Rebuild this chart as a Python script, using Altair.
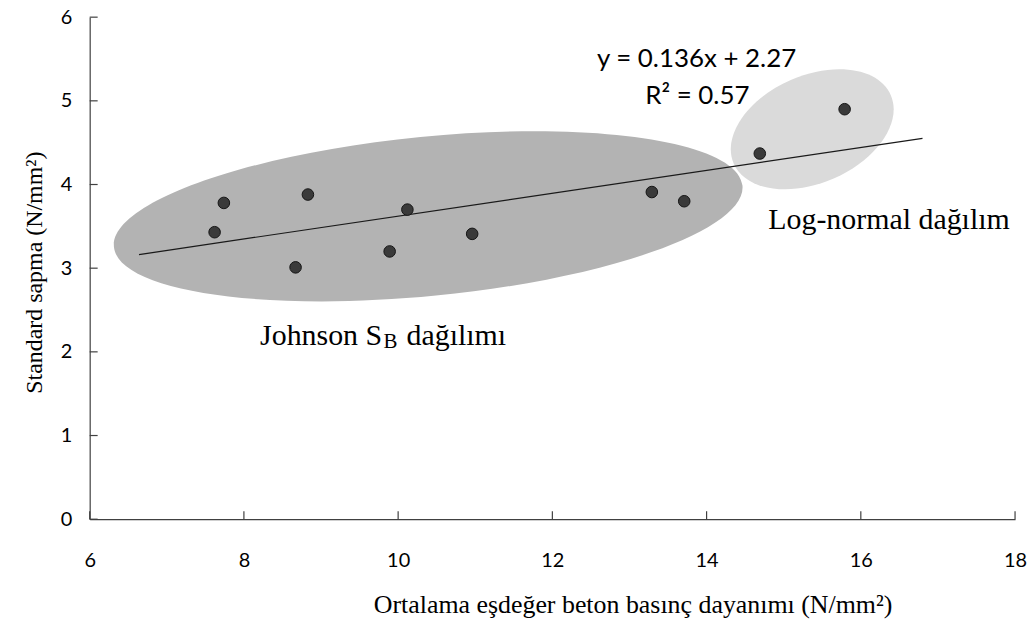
import altair as alt
import pandas as pd

# ---- data ----
mean_strength = [7.62, 7.74, 8.67, 8.83, 9.89, 10.12, 10.96, 13.29, 13.71, 14.69, 15.79]
std_dev = [3.43, 3.78, 3.01, 3.88, 3.20, 3.70, 3.41, 3.91, 3.80, 4.37, 4.90]

x_ticks = [6, 8, 10, 12, 14, 16, 18]
y_ticks = [0, 1, 2, 3, 4, 5, 6]

# centres of the two grouping ellipses (data units)
group_center_x = [10.39, 15.37]
group_center_y = [3.62, 4.66]

# extent of the linear trend line
fit_extent = [6.64, 16.8]

equation_lines = ["y = 0.136x + 2.27", "R² = 0.57"]
equation_x = [13.87, 13.88]
equation_y = [5.41, 4.96]

johnson_pos = [8.21, 2.08]
lognormal_pos = [14.80, 3.47]

x_title = "Ortalama eşdeğer beton basınç dayanımı (N/mm²)"
y_title = "Standard sapma (N/mm²)"

# ---- layout ----
W, H = 929, 504
SERIF = "Liberation Serif"
SANS = "Lato"

points_df = pd.DataFrame({"x": mean_strength, "y": std_dev})
big_df = pd.DataFrame({"x": [group_center_x[0]], "y": [group_center_y[0]]})
small_df = pd.DataFrame({"x": [group_center_x[1]], "y": [group_center_y[1]]})
xt_df = pd.DataFrame({"x": x_ticks})
yt_df = pd.DataFrame({"y": y_ticks})
eq_df = pd.DataFrame({"x": equation_x, "y": equation_y, "t": equation_lines})
john_df = pd.DataFrame({"x": [johnson_pos[0]], "y": [johnson_pos[1]]})
logn_df = pd.DataFrame({"x": [lognormal_pos[0]], "y": [lognormal_pos[1]], "t": ["Log-normal dağılım"]})

xscale = alt.Scale(domain=[6, 18], nice=False, zero=False)
yscale = alt.Scale(domain=[0, 6], nice=False, zero=False)

x_axis = alt.Axis(values=x_ticks, ticks=False, tickSize=0, grid=False,
                  labelPadding=31, labelFont=SANS, labelFontSize=20, labelColor="#000000",
                  domainColor="#404040", domainWidth=1.2, labelFlush=False,
                  title=x_title, titleFont=SERIF, titleFontSize=26, titleFontWeight="normal",
                  titleColor="#000000", titleX=545, titleY=94, titleAlign="center",
                  titleBaseline="alphabetic", titleAnchor="middle")
y_axis = alt.Axis(values=y_ticks, ticks=False, tickSize=0, grid=False,
                  labelPadding=18, labelFont=SANS, labelFontSize=20, labelColor="#000000",
                  domainColor="#404040", domainWidth=1.2, labelFlush=False,
                  title=y_title, titleFont=SERIF, titleFontSize=24, titleFontWeight="normal",
                  titleColor="#000000", titleAngle=270, titleX=-48, titleY=256,
                  titleAlign="center", titleBaseline="alphabetic")

X = alt.X("x:Q", scale=xscale, axis=x_axis)
Y = alt.Y("y:Q", scale=yscale, axis=y_axis)


def ellipse_path(r):
    k = 0.5523
    return (f"M 1 0 C 1 {k*r:.4f} {k:.4f} {r:.4f} 0 {r:.4f} "
            f"C {-k:.4f} {r:.4f} -1 {k*r:.4f} -1 0 "
            f"C -1 {-k*r:.4f} {-k:.4f} {-r:.4f} 0 {-r:.4f} "
            f"C {k:.4f} {-r:.4f} 1 {-k*r:.4f} 1 0 Z")


big_ell = alt.Chart(big_df).mark_point(
    shape=ellipse_path(80 / 317), size=634 ** 2, angle=354.4,
    filled=True, color="#b3b3b3", opacity=1, strokeWidth=0
).encode(x=X, y=Y)

small_ell = alt.Chart(small_df).mark_point(
    shape=ellipse_path(54 / 86), size=172 ** 2, angle=336.5,
    filled=True, color="#dadada", opacity=1, strokeWidth=0
).encode(x=X, y=Y)

trend = alt.Chart(points_df).transform_regression(
    "x", "y", extent=fit_extent
).mark_line(color="#1a1a1a", strokeWidth=1.2).encode(x=X, y=Y)

pts = alt.Chart(points_df).mark_circle(
    size=135, color="#3a3a3a", opacity=1, stroke="#151515", strokeWidth=1
).encode(x=X, y=Y)

xticks = alt.Chart(xt_df).mark_rule(color="#404040", strokeWidth=1.2).encode(
    x=X, y=alt.value(H), y2=alt.value(H - 8))
yticks = alt.Chart(yt_df).mark_rule(color="#404040", strokeWidth=1.2).encode(
    y=Y, x=alt.value(0), x2=alt.value(8))

eq = alt.Chart(eq_df).mark_text(
    font=SANS, fontSize=26, align="center", baseline="alphabetic", color="#000000"
).encode(x=X, y=Y, text="t:N")

john1 = alt.Chart(john_df).mark_text(
    font=SERIF, fontSize=30, align="left", baseline="alphabetic", color="#000000",
    text="Johnson S").encode(x=X, y=Y)
john2 = alt.Chart(john_df).mark_text(
    font=SERIF, fontSize=21, align="left", baseline="alphabetic", color="#000000",
    text="B", dx=124, dy=3).encode(x=X, y=Y)
john3 = alt.Chart(john_df).mark_text(
    font=SERIF, fontSize=30, align="left", baseline="alphabetic", color="#000000",
    text="dağılımı", dx=147).encode(x=X, y=Y)

logn = alt.Chart(logn_df).mark_text(
    font=SERIF, fontSize=30, align="left", baseline="alphabetic", color="#000000"
).encode(x=X, y=Y, text="t:N")

chart = alt.layer(
    small_ell, big_ell, trend, pts, xticks, yticks, eq, john1, john2, john3, logn
).properties(
    width=W, height=H,
    autosize=alt.AutoSizeParams(type="none"),
    padding={"left": 82, "top": 8, "right": 12, "bottom": 100},
    background="white",
).configure_view(stroke=None)

chart.save("out.html", embed_options={"renderer": "svg", "actions": False})
